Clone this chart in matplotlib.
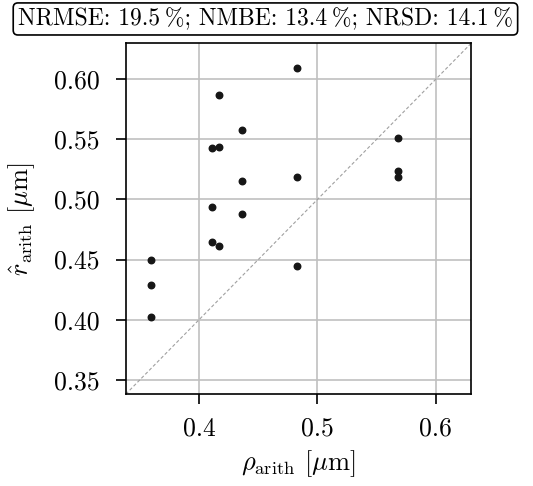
import matplotlib
matplotlib.use('agg')
import matplotlib.pyplot as plt

plt.rcParams['font.family'] = ['cmr10', 'DejaVu Serif']
plt.rcParams['mathtext.fontset'] = 'cm'

# reference (measured) vs. estimated arithmetic radius
rho = [0.359, 0.359, 0.359, 0.411, 0.417, 0.417, 0.411, 0.411, 0.417,
       0.4365, 0.4365, 0.4365, 0.483, 0.483, 0.483, 0.568, 0.568, 0.568]
r_hat = [0.450, 0.429, 0.402, 0.543, 0.544, 0.587, 0.494, 0.465, 0.461,
         0.558, 0.515, 0.488, 0.609, 0.519, 0.445, 0.551, 0.524, 0.519]
lims = [0.338, 0.630]
xticks = [0.4, 0.5, 0.6]
yticks = [0.35, 0.40, 0.45, 0.50, 0.55, 0.60]
title = "NRMSE: 19.5\u2009%; NMBE: 13.4\u2009%; NRSD: 14.1\u2009%"

fig = plt.figure(figsize=(5.33, 4.86), dpi=100)
ax = fig.add_axes([0.236, 0.189, 0.648, 0.722])

ax.plot(lims, lims, ls='--', color='#a0a0a0', lw=0.8, dashes=(3, 2), zorder=2)
ax.scatter(rho, r_hat, s=22, color='#161616', zorder=3)

ax.set_xlim(lims)
ax.set_ylim(lims)
ax.set_xticks(xticks)
ax.set_yticks(yticks)
ax.set_xticklabels(['0.4', '0.5', '0.6'])
ax.set_yticklabels(['0.35', '0.40', '0.45', '0.50', '0.55', '0.60'])
ax.grid(True, color='#c0c0c0', lw=1.2, zorder=0)
ax.set_axisbelow(True)
ax.tick_params(labelsize=18.5, length=7, width=1.2, direction='out')
ax.tick_params(axis='y', pad=12)
ax.tick_params(axis='x', pad=9)
for sp in ax.spines.values():
    sp.set_linewidth(1.2)

ax.set_xlabel(r'$\rho_\mathrm{arith}$ [$\mu$m]', fontsize=19, labelpad=6)
ax.set_ylabel(r'$\hat{r}_\mathrm{arith}$ [$\mu$m]', fontsize=19, labelpad=12)

t = fig.text(0.498, 0.961, title, fontsize=18, ha='center', va='center',
             bbox=dict(boxstyle='round,pad=0.2,rounding_size=0.2', fc='white', ec='black', lw=1.2))
# shrink the title so that it spans the same width as in the original
r = fig.canvas.get_renderer()
w = t.get_window_extent(r).width
t.set_fontsize(18 * 495 / w)

plt.savefig('out.png', dpi=100)
